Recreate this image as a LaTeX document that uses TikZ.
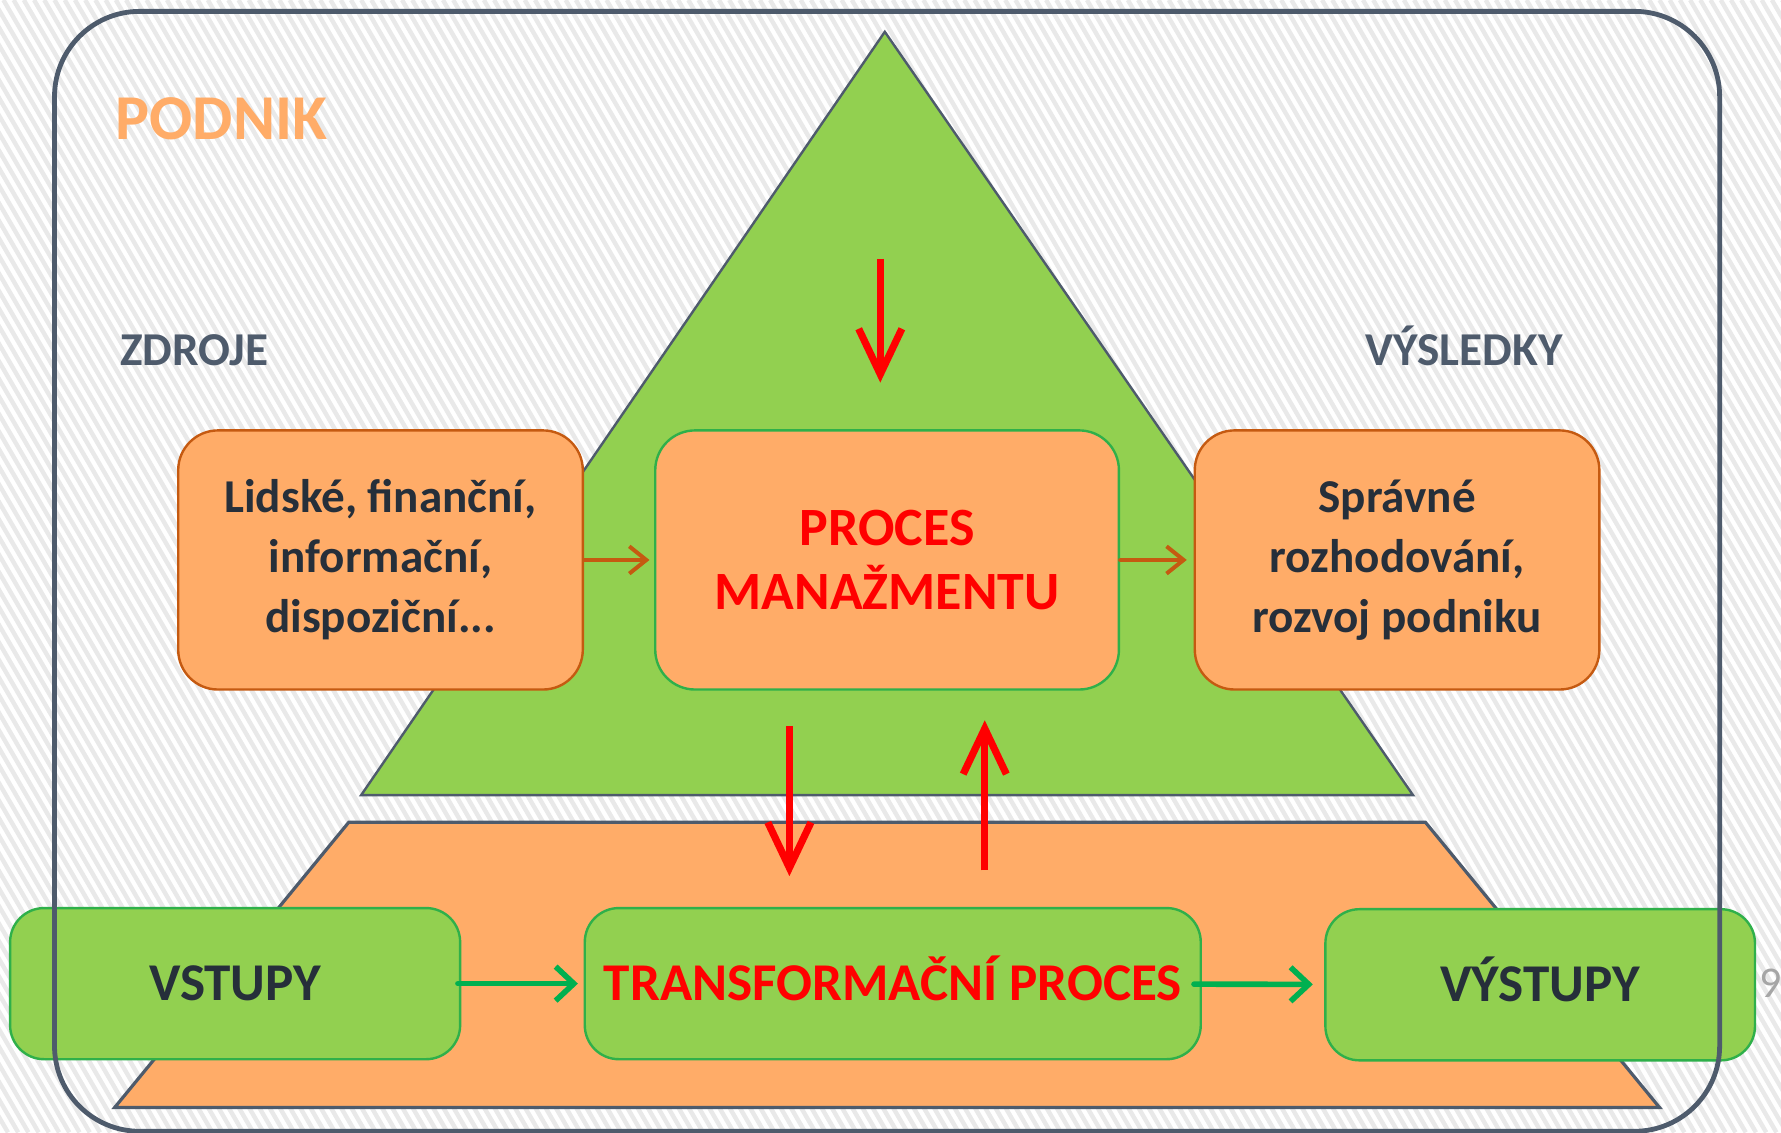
\documentclass[tikz,border=0pt]{standalone}
\usepackage{fontspec}
\setmainfont{Carlito}
\usepackage{tikz}
\usetikzlibrary{arrows.meta, positioning, calc}
\definecolor{pkframe}{HTML}{4E5B6C}
\definecolor{pkgreen}{HTML}{92D050}
\definecolor{pkgreenline}{HTML}{2FB04A}
\definecolor{pkorange}{HTML}{FFAC68}
\definecolor{pkbrown}{HTML}{C55A11}
\definecolor{pkarrowgreen}{HTML}{00B050}
\definecolor{pkred}{HTML}{FF0000}
\definecolor{pkdark}{HTML}{262F3A}
\definecolor{pkstripe}{HTML}{E9E9E9}

\begin{document}
\begin{tikzpicture}[x=0.01cm, y=-0.01cm,
    stripe/.style={line width=1.1pt, color=pkstripe},
    orangebox/.style={rectangle, rounded corners=3.5mm, draw=#1, fill=pkorange, line width=0.6pt, minimum width=3.56cm, minimum height=2.28cm, align=center, font=\bfseries\fontsize{11.8}{15}\selectfont, text=pkdark},
    greenbox/.style={rectangle, rounded corners=3mm, draw=pkgreenline, fill=pkgreen, line width=0.6pt, minimum height=1.33cm, text height=0.85em, text depth=0pt, font=\bfseries\fontsize{13.3}{16}\selectfont, text=pkdark},
    brownarrow/.style={-{Straight Barb[length=1.5mm, width=2.4mm]}, line width=1pt, color=pkbrown, line cap=round},
    greenarrow/.style={-{Straight Barb[length=1.6mm, width=3mm]}, line width=1.4pt, color=pkarrowgreen, line cap=round},
    redarrow/.style={-{Straight Barb[length=4mm, width=3.8mm]}, line width=1.8pt, color=pkred},
    label/.style={font=\bfseries\fontsize{11.8}{14}\selectfont, text height=0.66em, text depth=0pt, color=pkframe}
]
\useasboundingbox (0,0) rectangle (1568,997);

% Striped background
\fill[white] (0,0) rectangle (1568,997);
\begin{scope}
  \clip (0,0) rectangle (1568,997);
  \foreach \i in {-600,-591,...,1570}
    \draw[stripe] (\i,0) -- ++(580,997);
\end{scope}

% Management triangle and transformation trapezoid
\draw[fill=pkgreen, draw=pkframe, line width=0.6pt] (779,28) -- (1244,700) -- (318,700) -- cycle;
\draw[fill=pkorange, draw=pkframe, line width=0.8pt] (307,724) -- (1255,724) -- (1461,975) -- (101,975) -- cycle;

% Labels
\node[font=\bfseries\fontsize{16}{18}\selectfont, color=pkorange] (podnik) at (195,105) {PODNIK};
\node[label] (zdroje) at (171,310) {ZDROJE};
\node[label] (vysledky) at (1289,310) {VÝSLEDKY};

% Management level
\node[orangebox=pkbrown] (lidske) at (335,493) {Lidské, finanční,\\informační,\\dispoziční...};
\node[orangebox=pkgreenline, minimum width=4.08cm, text=pkred, font=\bfseries\fontsize{13.5}{16}\selectfont] (mgmt) at (781,493) {PROCES\\MANAŽMENTU};
\node[orangebox=pkbrown] (spravne) at (1230,493) {Správné\\rozhodování,\\rozvoj podniku};

% Transformation level
\node[greenbox, minimum width=3.96cm] (vstupy) at (207,866) {VSTUPY};
\node[greenbox, minimum width=5.42cm, text=pkred] (transf) at (786,866) {TRANSFORMAČNÍ PROCES};
\node[greenbox, minimum width=3.78cm] (vystupy) at (1356,867) {VÝSTUPY};

% Page number
\node[anchor=west, inner sep=0pt, font=\fontsize{11}{13}\selectfont, color=black!35] (pagenum) at (1548,866) {9};

% Arrows
\draw[brownarrow, shorten >=0.04cm] (lidske.east) -- (mgmt.west);
\draw[brownarrow, shorten >=0.06cm] (mgmt.east) -- (spravne.west);
\draw[greenarrow, shorten <=-0.03cm, shorten >=0.05cm] (vstupy) -- (transf);
\draw[greenarrow, shorten <=-0.07cm, shorten >=0.1cm] (transf) -- (vystupy);

\coordinate (mtop) at (775,228);
\coordinate (mdown) at ($(mgmt.south)+(-86,0)$);
\coordinate (tup) at ($(transf.north)+(81,0)$);
\draw[redarrow, shorten >=0.41cm] (mtop) -- (mtop |- mgmt.north);
\draw[redarrow, shorten <=0.31cm, shorten >=0.27cm] (mdown) -- (mdown |- transf.north);
\draw[redarrow, shorten <=0.32cm, shorten >=0.26cm] (tup) -- (tup |- mgmt.south);

% Enterprise frame
\draw[pkframe, line width=1.2pt, rounded corners=7.5mm] (48,10) rectangle (1514,996);

\end{tikzpicture}
\end{document}
